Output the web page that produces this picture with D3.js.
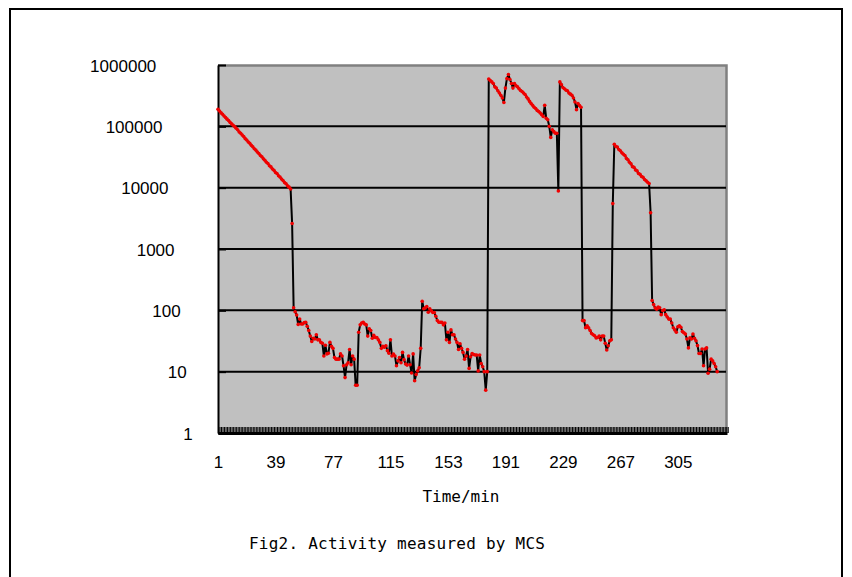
<!DOCTYPE html>
<html>
<head>
<meta charset="utf-8">
<script src="https://cdn.jsdelivr.net/npm/d3@7"></script>
<style>
  body { margin: 0; background: #fff; }
  svg { display: block; }
</style>
</head>
<body>
<script>
// activity per minute (log scale)
var activity = [
  190000, 178000, 166000, 157000, 147000, 139000, 131000, 124000, 116000, 110000, 104000, 99000,
  93000, 88000, 81000, 77000, 72000, 68000, 63000, 60000, 55500, 53000, 49000, 46500, 43000, 41000,
  38000, 36000, 33500, 32000, 29500, 28000, 26000, 24800, 22800, 21800, 20100, 19200, 17700, 17000,
  15600, 14900, 13800, 13100, 12100, 11600, 10700, 10200, 9500,
  2600, 110,
  95, 84, 59, 72, 60, 60, 63, 64, 55, 47, 38, 31, 35, 34, 40, 33, 33, 30, 29, 18, 27, 19.5, 20, 30,
  26, 24, 17, 16, 16, 16, 19.5, 18, 12.5, 8, 13, 14, 23, 13, 18, 16, 6, 6,
  44, 58, 62, 64, 60, 58, 38, 50, 47, 35, 39, 36, 36, 33, 30, 24, 26, 25, 26.5, 22, 20, 33, 18, 19.4,
  18, 12.5, 15, 17, 14, 20.6, 15.7, 13.3, 12.8, 18, 13, 9.5, 19.5, 7.1,
  9, 10.3, 11.6, 24, 141, 106, 110, 115, 93, 106, 98, 92, 92, 80, 68, 64, 64, 64, 58, 62, 33, 44, 30,
  48, 40, 40, 34, 30, 23, 28.5, 24, 20.6, 16, 18, 23, 11.3, 17.5, 19.8, 19, 18.7, 18.7, 10.3, 18.7,
  13.6, 12, 10, 5, 10,
  590000, 560000, 530000, 500000, 440000, 420000, 380000, 350000, 320000, 290000, 245000, 420000,
  600000, 700000, 580000, 500000, 420000, 500000, 460000, 440000, 410000, 385000, 370000, 350000,
  330000, 300000, 280000, 255000, 235000, 220000, 205000, 195000, 182000, 175000, 165000, 155000,
  145000, 220000, 135000, 128000,
  100000, 66000, 88000, 82000, 77000, 77000, 8800, 530000, 480000, 430000, 410000, 390000, 380000,
  350000, 335000, 320000, 290000, 250000, 187000, 235000, 218000, 205000,
  68, 68, 52, 56, 52, 47, 42, 40, 38.6, 35.5, 36, 38, 33, 38, 38, 29, 22.5, 26.5, 32, 33,
  5500,
  51000, 47000, 46000, 42000, 40000, 37000, 35000, 33500, 30000, 28500, 26000, 24500, 22000, 21500,
  19500, 18800, 17000, 16500, 15200, 14800, 13600, 13000, 12200, 11700,
  3900,
  145, 124, 110, 104, 113, 110, 85, 99, 102, 85, 78, 72, 72, 62, 52, 48, 44, 54, 56, 53, 45, 43, 41,
  34, 24.4, 35.5, 34, 41, 35, 32, 26.6, 19.8, 19.8, 23.4, 12.5, 23.4, 24.4, 9.4, 11, 16, 15, 13.6, 12, 10
];
var nCategories = 338;
var xTickLabels = [1, 39, 77, 115, 153, 191, 229, 267, 305];
var yTickValues = [1, 10, 100, 1000, 10000, 100000, 1000000];
var xTitle = "Time/min";
var caption = "Fig2. Activity measured by MCS";

var width = 852, height = 577;
var plot = { left: 218, top: 65, right: 727, bottom: 433 };

var svg = d3.select("body").append("svg")
    .attr("width", width)
    .attr("height", height);

// outer frame (bottom runs off the page)
svg.append("rect")
    .attr("x", 10).attr("y", 9)
    .attr("width", 832).attr("height", 640)
    .attr("fill", "#fff")
    .attr("stroke", "#000")
    .attr("stroke-width", 2);

var xScale = d3.scaleLinear().domain([1, nCategories - 0.5]).range([plot.left, plot.right]);
var yScale = d3.scaleLog().domain([1, 1000000]).range([plot.bottom, plot.top]);

// plot area
svg.append("rect")
    .attr("x", plot.left).attr("y", plot.top)
    .attr("width", plot.right - plot.left)
    .attr("height", plot.bottom - plot.top)
    .attr("fill", "#c0c0c0");

// top / right border
svg.append("path")
    .attr("d", "M" + plot.left + "," + (plot.top + 0.5) + "H" + (plot.right - 0.5) + "V" + plot.bottom)
    .attr("fill", "none")
    .attr("stroke", "#808080")
    .attr("stroke-width", 2.5);

// gridlines
svg.append("g").selectAll("line")
    .data(yTickValues.slice(1, -1))
    .enter().append("line")
    .attr("x1", plot.left).attr("x2", plot.right - 1)
    .attr("y1", function(d){ return yScale(d); })
    .attr("y2", function(d){ return yScale(d); })
    .attr("stroke", "#000")
    .attr("stroke-width", 2);

// *** y axis (labels drift left as they grow, like the original)
var yAxis = d3.axisLeft(yScale)
    .tickValues(yTickValues)
    .tickFormat(d3.format("d"))
    .tickSizeInner(-8)
    .tickSizeOuter(0);
var yG = svg.append("g")
    .attr("transform", "translate(" + plot.left + ",0)")
    .call(yAxis);
yG.select(".domain").attr("stroke", "#000").attr("stroke-width", 2);
yG.selectAll(".tick line").attr("stroke", "#000").attr("stroke-width", 2);
yG.selectAll(".tick text")
    .attr("text-anchor", "middle")
    .attr("x", function(d){ return -30 - 10.8 * Math.log10(d); })
    .attr("dy", "0.36em")
    .attr("fill", "#000")
    .style("font-family", "'Liberation Sans', Arial, sans-serif")
    .style("font-size", "17px");

// *** x axis, one tick per minute
var xAxis = d3.axisBottom(xScale)
    .tickValues(d3.range(1, nCategories + 1))
    .tickFormat(function(d){ return xTickLabels.indexOf(d) >= 0 ? d : ""; })
    .tickSizeInner(-6)
    .tickSizeOuter(0)
    .tickPadding(23);
var xG = svg.append("g")
    .attr("transform", "translate(0," + plot.bottom + ")")
    .call(xAxis);
xG.select(".domain").attr("stroke", "#000").attr("stroke-width", 3);
xG.selectAll(".tick line").attr("stroke", "#000").attr("stroke-width", 1);
xG.selectAll(".tick text")
    .attr("fill", "#000")
    .style("font-family", "'Liberation Sans', Arial, sans-serif")
    .style("font-size", "17px");

// *** series
var line = d3.line()
    .x(function(d, i){ return xScale(i + 1); })
    .y(function(d){ return yScale(d); });

svg.append("path")
    .datum(activity)
    .attr("d", line)
    .attr("fill", "none")
    .attr("stroke", "#000")
    .attr("stroke-width", 2)
    .attr("stroke-linejoin", "round");

svg.append("g").selectAll("circle")
    .data(activity)
    .enter().append("circle")
    .attr("cx", function(d, i){ return xScale(i + 1); })
    .attr("cy", function(d){ return yScale(d); })
    .attr("r", 1.8)
    .attr("fill", "#f00000");

// *** titles
svg.append("text")
    .attr("x", 461).attr("y", 502)
    .attr("text-anchor", "middle")
    .attr("textLength", 77)
    .style("font-family", "'DejaVu Sans Mono', monospace")
    .style("font-size", "16px")
    .text(xTitle);

svg.append("text")
    .attr("x", 397).attr("y", 549)
    .attr("text-anchor", "middle")
    .attr("textLength", 296)
    .style("font-family", "'DejaVu Sans Mono', monospace")
    .style("font-size", "16px")
    .text(caption);
</script>
</body>
</html>
